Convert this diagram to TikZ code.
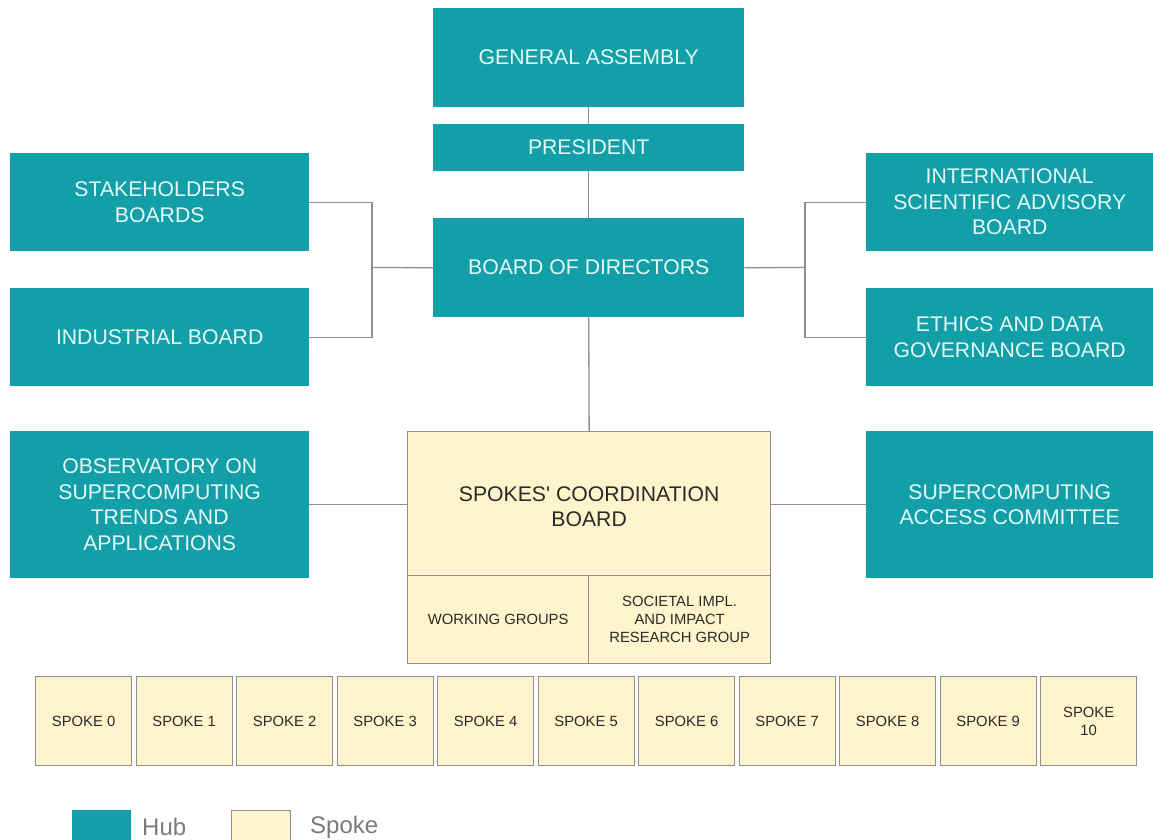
\documentclass[tikz,border=0pt]{standalone}
\usepackage{fontspec}
\setmainfont{Liberation Sans}
\begin{document}
\definecolor{hubfill}{HTML}{139FA8}
\definecolor{hubtext}{HTML}{E4F8F8}
\definecolor{spokefill}{HTML}{FFF4CB}
\definecolor{edgegray}{HTML}{8F8F8F}
\definecolor{darktext}{HTML}{2A2A2A}
\definecolor{legendtext}{HTML}{7A7A7A}
\begin{tikzpicture}[x=1pt,y=-1pt,
  hub/.style={fill=hubfill, text=hubtext, anchor=north west, inner sep=0pt,
    align=center, font=\fontsize{21.2}{25.5}\selectfont},
  spoke/.style={fill=spokefill, draw=edgegray, line width=1.3pt, text=darktext,
    anchor=north west, inner sep=0pt, align=center},
  bigtxt/.style={font=\fontsize{21.2}{25}\selectfont},
  smalltxt/.style={font=\fontsize{14.8}{18}\selectfont},
  conn/.style={draw=edgegray, line width=1.3pt}]
\useasboundingbox (0,0) rectangle (1153,840);

% central column
\node[hub, minimum width=311pt, minimum height=99pt] (ga) at (433,8) {GENERAL ASSEMBLY};
\node[hub, minimum width=311pt, minimum height=47pt] (pres) at (433,124) {PRESIDENT};
\node[hub, minimum width=311pt, minimum height=99pt] (bod) at (433,218) {BOARD OF DIRECTORS};

% side boards
\node[hub, minimum width=299pt, minimum height=98pt] (sb) at (10,153) {STAKEHOLDERS\\BOARDS};
\node[hub, minimum width=299pt, minimum height=98pt] (ib) at (10,288) {INDUSTRIAL BOARD};
\node[hub, minimum width=287pt, minimum height=98pt] (isab) at (866,153) {INTERNATIONAL\\SCIENTIFIC ADVISORY\\BOARD};
\node[hub, minimum width=287pt, minimum height=98pt] (eth) at (866,288) {ETHICS AND DATA\\GOVERNANCE BOARD};
\node[hub, minimum width=299pt, minimum height=147pt] (obs) at (10,431) {OBSERVATORY ON\\SUPERCOMPUTING\\TRENDS AND\\APPLICATIONS};
\node[hub, minimum width=287pt, minimum height=147pt] (sac) at (866,431) {SUPERCOMPUTING\\ACCESS COMMITTEE};

% spokes' coordination board and its groups
\node[spoke, bigtxt, minimum width=363pt, minimum height=144pt] (scb) at (407,431) {};
\node[bigtxt, text=darktext, align=center, inner sep=0pt] (scbt) at ([yshift=-3pt]scb.center) {SPOKES\textquotesingle{} COORDINATION\\BOARD};
\node[spoke, smalltxt, minimum width=181pt, minimum height=88pt] (wg) at (407,575) {WORKING GROUPS};
\node[spoke, smalltxt, minimum width=182pt, minimum height=88pt] (sirg) at (588,575) {SOCIETAL IMPL.\\AND IMPACT\\RESEARCH GROUP};

% spokes row
\foreach \i in {0,...,9} {
  \node[spoke, smalltxt, minimum width=96pt, minimum height=89pt] (sp\i) at ({35+100.5*\i},676) {SPOKE \i};
}
\node[spoke, smalltxt, minimum width=96pt, minimum height=89pt] (sp10) at (1040,676) {SPOKE\\10};

% connectors
\draw[conn] (ga.south) -- (pres.north);
\draw[conn] (pres.south) -- (bod.north);
\coordinate (lj) at (372,267.5);
\coordinate (rj) at (805,267.5);
\draw[conn] (sb.east) -| (lj);
\draw[conn] (ib.east) -| (lj);
\draw[conn] (lj) -- (bod.west);
\draw[conn] (isab.west) -| (rj);
\draw[conn] (eth.west) -| (rj);
\draw[conn] (rj) -- (bod.east);
\draw[conn] (bod.south) -- (scb.north);
\draw[conn] (obs.east) -- (scb.west |- obs.east);
\draw[conn] (sac.west) -- (scb.east |- sac.west);

% legend
\node[fill=hubfill, minimum width=59pt, minimum height=32pt, inner sep=0pt, anchor=north west] (lhub) at (72,810) {};
\node[text=legendtext, anchor=west, inner sep=0pt, font=\fontsize{24}{28}\selectfont] (lhubt) at (142,827) {Hub};
\node[fill=spokefill, draw=edgegray, line width=1pt, minimum width=59pt, minimum height=32pt, inner sep=0pt, anchor=north west] (lspk) at (231,810) {};
\node[text=legendtext, anchor=west, inner sep=0pt, font=\fontsize{24}{28}\selectfont] (lspkt) at (310,827) {Spoke};
\end{tikzpicture}
\end{document}
